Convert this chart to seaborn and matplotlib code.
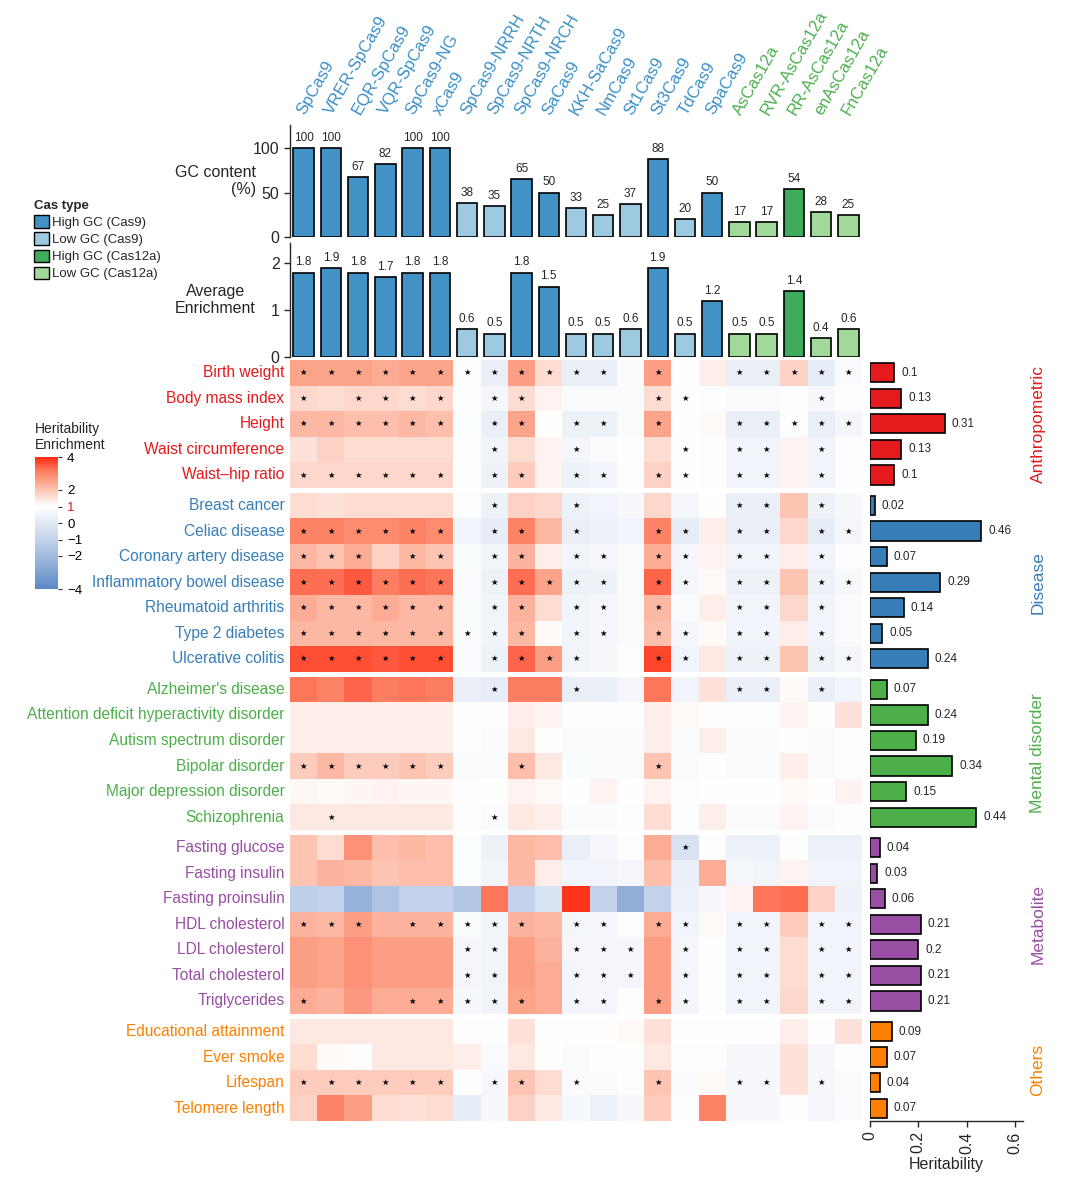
import numpy as np
import pandas as pd
import seaborn as sns
import matplotlib.pyplot as plt
from matplotlib.colors import LinearSegmentedColormap
from matplotlib.patches import Patch
from matplotlib.transforms import blended_transform_factory

sns.set_style('white')
plt.rcParams['font.family'] = ['Liberation Sans', 'DejaVu Sans']

# ---- Cas enzymes (columns) ----
cas_names = ['SpCas9', 'VRER-SpCas9', 'EQR-SpCas9', 'VQR-SpCas9', 'SpCas9-NG', 'xCas9',
             'SpCas9-NRRH', 'SpCas9-NRTH', 'SpCas9-NRCH', 'SaCas9', 'KKH-SaCas9', 'NmCas9',
             'St1Cas9', 'St3Cas9', 'TdCas9', 'SpaCas9', 'AsCas12a', 'RVR-AsCas12a',
             'RR-AsCas12a', 'enAsCas12a', 'FnCas12a']
gc_content = [100, 100, 67, 82, 100, 100, 38, 35, 65, 50, 33, 25, 37, 88, 20, 50, 17, 17, 54, 28, 25]
avg_enrich = [1.8, 1.9, 1.8, 1.7, 1.8, 1.8, 0.6, 0.5, 1.8, 1.5, 0.5, 0.5, 0.6, 1.9, 0.5, 1.2,
              0.5, 0.5, 1.4, 0.4, 0.6]
cas_type = ['High GC (Cas9)'] * 6 + ['Low GC (Cas9)'] * 2 + ['High GC (Cas9)'] * 2 + \
           ['Low GC (Cas9)'] * 3 + ['High GC (Cas9)', 'Low GC (Cas9)', 'High GC (Cas9)'] + \
           ['Low GC (Cas12a)'] * 2 + ['High GC (Cas12a)'] + ['Low GC (Cas12a)'] * 2
type_order = ['High GC (Cas9)', 'Low GC (Cas9)', 'High GC (Cas12a)', 'Low GC (Cas12a)']
type_colors = {'High GC (Cas9)': '#4292C6', 'Low GC (Cas9)': '#9ECAE1',
               'High GC (Cas12a)': '#41AB5D', 'Low GC (Cas12a)': '#A1D99B'}

# ---- traits (rows), grouped ----
groups = ['Anthropometric', 'Disease', 'Mental disorder', 'Metabolite', 'Others']
group_colors = ['#E41A1C', '#377EB8', '#4DAF4A', '#984EA3', '#FF7F00']
traits = [
    ['Birth weight', 'Body mass index', 'Height', 'Waist circumference', 'Waist\u2013hip ratio'],
    ['Breast cancer', 'Celiac disease', 'Coronary artery disease', 'Inflammatory bowel disease',
     'Rheumatoid arthritis', 'Type 2 diabetes', 'Ulcerative colitis'],
    ["Alzheimer's disease", 'Attention deficit hyperactivity disorder', 'Autism spectrum disorder',
     'Bipolar disorder', 'Major depression disorder', 'Schizophrenia'],
    ['Fasting glucose', 'Fasting insulin', 'Fasting proinsulin', 'HDL cholesterol',
     'LDL cholesterol', 'Total cholesterol', 'Triglycerides'],
    ['Educational attainment', 'Ever smoke', 'Lifespan', 'Telomere length'],
]
heritability = [
    [0.1, 0.13, 0.31, 0.13, 0.1],
    [0.02, 0.46, 0.07, 0.29, 0.14, 0.05, 0.24],
    [0.07, 0.24, 0.19, 0.34, 0.15, 0.44],
    [0.04, 0.03, 0.06, 0.21, 0.2, 0.21, 0.21],
    [0.09, 0.07, 0.04, 0.07],
]
enrich_anthro = [
    [2.5, 2.5, 2.5, 2.4, 2.5, 2.5, 1.0, 0.3, 2.6, 1.6, 0.3, 0.3, 0.8, 2.6, 1.0, 1.3, 0.3, 0.3, 1.8, 0.2, 0.8],
    [1.7, 1.6, 1.7, 1.7, 1.6, 1.7, 0.9, 0.6, 1.6, 1.2, 0.8, 0.8, 0.8, 1.6, 1.0, 0.9, 0.8, 0.8, 0.9, 0.7, 0.9],
    [2.2, 2.2, 2.1, 2.1, 2.2, 2.1, 0.9, 0.3, 2.5, 1.0, 0.4, 0.4, 0.8, 2.5, 1.0, 1.1, 0.3, 0.3, 0.9, 0.3, 0.6],
    [1.5, 1.8, 1.6, 1.6, 1.6, 1.6, 0.9, 0.5, 1.6, 1.2, 0.6, 0.8, 0.9, 1.6, 1.0, 0.9, 0.5, 0.5, 1.2, 0.5, 0.9],
    [1.7, 1.7, 1.7, 1.7, 1.7, 1.7, 0.9, 0.4, 1.9, 1.2, 0.4, 0.5, 0.9, 1.8, 1.0, 0.9, 0.5, 0.5, 1.2, 0.5, 0.9],
]
enrich_disease = [
    [1.6, 1.5, 1.6, 1.6, 1.6, 1.6, 0.9, 0.4, 1.8, 1.7, 0.4, 0.5, 0.7, 1.7, 0.6, 1.0, 0.3, 0.3, 2.0, 0.4, 0.7],
    [3.0, 3.0, 2.9, 2.9, 3.0, 2.9, 0.5, 0.2, 3.0, 2.2, 0.3, 0.4, 0.5, 3.0, 0.2, 1.3, 0.3, 0.3, 1.7, 0.2, 0.6],
    [2.2, 2.0, 2.4, 1.8, 2.2, 2.0, 0.8, 0.5, 2.3, 1.3, 0.5, 0.6, 0.8, 2.4, 0.6, 1.2, 0.5, 0.5, 1.3, 0.5, 0.9],
    [3.3, 3.3, 3.5, 3.1, 3.3, 3.2, 0.8, 0.4, 3.3, 2.5, 0.4, 0.4, 0.8, 3.4, 0.6, 1.1, 0.4, 0.4, 2.0, 0.4, 0.7],
    [2.4, 2.2, 2.2, 2.4, 2.2, 2.2, 0.8, 0.5, 2.3, 1.6, 0.5, 0.6, 0.8, 2.2, 0.8, 1.3, 0.5, 0.5, 1.7, 0.5, 0.8],
    [2.2, 2.2, 2.2, 2.2, 2.2, 2.2, 0.8, 0.5, 2.2, 1.1, 0.5, 0.6, 0.8, 2.1, 0.6, 1.1, 0.5, 0.5, 1.3, 0.5, 0.8],
    [3.6, 3.6, 3.6, 3.5, 3.6, 3.6, 0.8, 0.4, 3.4, 2.6, 0.5, 0.7, 0.9, 3.7, 0.5, 1.4, 0.4, 0.4, 2.0, 0.4, 0.6],
]
enrich_mental = [
    [3.2, 3.0, 3.4, 3.1, 3.2, 3.1, 0.3, 0.2, 3.1, 3.1, 0.3, 0.3, 0.6, 3.2, 0.5, 1.5, 0.3, 0.3, 1.1, 0.3, 0.5],
    [1.3, 1.3, 1.3, 1.3, 1.3, 1.3, 0.9, 1.0, 1.3, 1.2, 0.95, 1.0, 1.0, 1.3, 1.1, 0.9, 0.9, 0.9, 1.2, 1.0, 1.5],
    [1.3, 1.3, 1.3, 1.3, 1.3, 1.3, 0.9, 0.8, 1.4, 1.0, 0.8, 0.8, 0.8, 1.3, 0.8, 1.3, 0.8, 0.8, 1.0, 0.8, 0.9],
    [1.9, 2.2, 1.9, 1.9, 2.0, 1.9, 0.8, 0.8, 2.1, 1.4, 0.8, 0.8, 0.8, 2.0, 0.8, 0.9, 0.8, 0.8, 1.3, 0.8, 0.9],
    [1.15, 1.1, 1.15, 1.2, 1.15, 1.15, 0.9, 1.0, 1.2, 1.1, 1.0, 1.2, 1.0, 1.2, 0.9, 1.0, 1.0, 1.0, 1.1, 1.0, 1.2],
    [1.4, 1.4, 1.4, 1.4, 1.4, 1.4, 0.9, 0.8, 1.4, 1.3, 0.8, 0.8, 0.9, 1.6, 0.9, 1.3, 0.8, 0.8, 1.2, 0.8, 0.9],
]
enrich_metab = [
    [2.0, 1.6, 2.8, 2.1, 2.2, 2.1, 0.9, 0.4, 2.2, 2.1, 0.3, 0.6, 0.9, 2.4, -0.3, 0.9, 0.4, 0.4, 1.0, 0.4, 0.4],
    [2.0, 2.3, 2.2, 2.0, 2.1, 2.1, 0.9, 0.5, 2.2, 1.3, 0.5, 0.5, 0.6, 2.1, 0.3, 2.4, 0.6, 0.5, 1.2, 0.5, 0.5],
    [-1.2, -1.0, -2.3, -1.6, -1.0, -1.0, -1.5, 3.2, -1.0, -0.3, 3.9, -1.0, -2.5, -1.0, 0.4, 0.7, 1.2, 3.2, 3.3, 1.8, 0.4],
    [2.3, 2.2, 2.6, 2.3, 2.3, 2.3, 0.8, 0.5, 2.3, 2.2, 0.6, 0.6, 0.9, 2.4, 0.5, 1.1, 0.5, 0.5, 1.9, 0.5, 0.5],
    [2.6, 2.5, 2.8, 2.6, 2.6, 2.6, 0.6, 0.5, 2.6, 2.3, 0.6, 0.6, 0.6, 2.6, 0.6, 1.0, 0.5, 0.5, 1.6, 0.5, 0.5],
    [2.6, 2.5, 2.8, 2.6, 2.6, 2.6, 0.6, 0.5, 2.6, 2.4, 0.6, 0.6, 0.6, 2.6, 0.6, 1.0, 0.5, 0.5, 1.6, 0.5, 0.5],
    [2.4, 2.3, 2.7, 2.4, 2.4, 2.4, 0.7, 0.5, 2.5, 2.4, 0.6, 0.6, 0.9, 2.6, 0.6, 1.0, 0.5, 0.5, 1.7, 0.5, 0.5],
]
enrich_others = [
    [1.4, 1.4, 1.4, 1.4, 1.4, 1.4, 1.0, 0.9, 1.5, 1.0, 1.0, 1.0, 1.1, 1.5, 1.0, 1.0, 1.0, 1.0, 1.3, 1.0, 1.5],
    [1.6, 1.1, 1.0, 1.4, 1.4, 1.4, 1.3, 0.8, 1.4, 1.0, 0.8, 0.9, 1.0, 1.4, 0.9, 0.9, 0.7, 0.7, 1.5, 0.7, 0.9],
    [1.9, 1.9, 1.9, 1.9, 1.9, 1.9, 0.9, 0.7, 2.0, 1.6, 0.8, 0.8, 0.9, 2.0, 0.8, 1.1, 0.7, 0.7, 1.5, 0.7, 0.8],
    [1.8, 3.0, 2.6, 1.6, 1.5, 1.6, 0.2, 0.7, 1.8, 1.4, 0.7, 0.4, 0.7, 1.9, 0.9, 3.0, 0.7, 0.7, 0.9, 0.6, 0.8],
]
enrichment = [enrich_anthro, enrich_disease, enrich_mental, enrich_metab, enrich_others]

# significance marks, one char per column ('*' = significant)
stars = [
    ['************.*..*****', '*.****.**....**....*.', '******.**.**.*..*****',
     '.......*..*...*.**.*.', '******.**.**.**.**.*.'],
    ['.......*..*.....**.*.', '******.**.*..**.**.**', '***.**.**.**.**.**.*.',
     '******.*****.**.**.**', '******.**.**.*..**.*.', '*********.**.**.**.*.',
     '******.****..**.**.**'],
    ['.......*..*.....**.*.', '.....................', '.....................',
     '******..*....*.......', '.....................', '.*.....*.............'],
    ['..............*......', '.....................', '.....................',
     '***.*****.**.**.**.**', '......**..***.*.**.**', '......**..***.*.**.**',
     '*...*****.**.**.**.**'],
    ['.....................', '.....................', '******.**.*..*..**.*.',
     '.....................'],
]

# heatmap colours: blue (-4) -> white (1) -> red (4)
cmap_vals = [-4, -2.75, -1.5, -0.25, 1, 1.75, 2.5, 3.25, 4]
cmap_cols = ['#5A88C4', '#88A8D4', '#B3C7E5', '#DAE3F1', '#FFFFFF',
             '#FDD5C8', '#FCA68C', '#FD7458', '#FF2A12']
cmap = LinearSegmentedColormap.from_list(
    'enrich', [((v + 4) / 8, c) for v, c in zip(cmap_vals, cmap_cols)])

W, H = 1080, 1178
fig = plt.figure(figsize=(W / 100, H / 100), dpi=100)


def px_axes(x0, y0, x1, y1):
    return fig.add_axes([x0 / W, 1 - y1 / H, (x1 - x0) / W, (y1 - y0) / H])


hm_x0, hm_x1 = 290, 862
bar_x0, bar_x1 = 870, 1023

# ---- top bar panels ----
ax_gc = px_axes(hm_x0, 125, hm_x1, 237)
ax_av = px_axes(hm_x0, 243, hm_x1, 357)
for ax, vals, ylim, ticks, lab in [
        (ax_gc, gc_content, 126, [0, 50, 100], 'GC content\n(%)'),
        (ax_av, avg_enrich, 2.43, [0, 1, 2], 'Average\nEnrichment')]:
    sns.barplot(x=cas_names, y=vals, hue=cas_type, hue_order=type_order, palette=type_colors,
                dodge=False, saturation=1, edgecolor='black', linewidth=1.2, width=0.75,
                legend=False, ax=ax)
    for cont in ax.containers:
        ax.bar_label(cont, fmt='%g', padding=3, fontsize=8.5)
    ax.set_xlim(-0.5, len(cas_names) - 0.5)
    ax.set_ylim(0, ylim)
    ax.set_yticks(ticks)
    ax.set_xticks([])
    ax.tick_params(axis='y', labelsize=11.5, length=4, left=True, width=1)
    sns.despine(ax=ax, bottom=True)
    ax.spines['left'].set_linewidth(1)
    ax.set_ylabel(lab, rotation=0, fontsize=11.5, ha='right', va='center',
                  multialignment='right' if 'GC' in lab else 'center')
    ax.yaxis.set_label_coords(-0.06, 0.5)

trans = blended_transform_factory(ax_gc.transData, ax_gc.transAxes)
for i, name in enumerate(cas_names):
    col = '#4CAF50' if 'Cas12a' in name else '#3A8FC7'
    ax_gc.text(i + 0.15, 1.07, name, transform=trans, rotation=60, rotation_mode='anchor',
               ha='left', va='bottom', fontsize=12, color=col)

handles = [Patch(facecolor=type_colors[t], edgecolor='black', linewidth=1) for t in type_order]
ax_gc.legend(handles, type_order, title='Cas type', loc='upper left',
             bbox_to_anchor=(34 / W, 1 - 200 / H), bbox_transform=fig.transFigure,
             frameon=False, fontsize=9.5, title_fontproperties={'weight': 'bold', 'size': 9.5},
             handlelength=1.1, handleheight=1.1, handletextpad=0.3, labelspacing=0.25,
             alignment='left', borderpad=0, borderaxespad=0)

# ---- heatmap groups + heritability bars ----
row_h, gap, y = 25.55, 5, 360
cax = px_axes(35, 457, 58, 589)
for g, name in enumerate(groups):
    n = len(traits[g])
    ax = px_axes(hm_x0, y, hm_x1, y + n * row_h)
    bax = px_axes(bar_x0, y, bar_x1, y + n * row_h)
    y += n * row_h + gap

    df = pd.DataFrame(enrichment[g], index=traits[g], columns=cas_names)
    marks = np.array([[('\u2605' if c == '*' else '') for c in s] for s in stars[g]])
    sns.heatmap(df, ax=ax, cmap=cmap, vmin=-4, vmax=4, annot=marks, fmt='',
                annot_kws={'fontsize': 6, 'color': 'black', 'family': 'DejaVu Sans'},
                xticklabels=False, yticklabels=True, linewidths=0,
                cbar=(g == 0), cbar_ax=cax if g == 0 else None)
    ax.tick_params(axis='y', length=0, pad=4, labelsize=11.2)
    ax.set_ylabel('')
    for t in ax.get_yticklabels():
        t.set_rotation(0)
        t.set_color(group_colors[g])

    sns.barplot(x=heritability[g], y=traits[g], orient='h', color=group_colors[g],
                saturation=1, edgecolor='black', linewidth=1.2, width=0.75, ax=bax)
    bax.bar_label(bax.containers[0], fmt='%g', padding=5, fontsize=8.5)
    bax.set_xlim(0, 0.633)
    bax.set_ylim(n - 0.5, -0.5)
    bax.set_yticks([])
    bax.set_ylabel('')
    sns.despine(ax=bax, left=True, bottom=(g < len(groups) - 1))
    if g < len(groups) - 1:
        bax.set_xticks([])
    else:
        bax.set_xticks([0, 0.2, 0.4, 0.6], labels=['0', '0.2', '0.4', '0.6'], rotation=90)
        bax.tick_params(axis='x', labelsize=11.5, length=4, bottom=True, width=1)
        bax.spines['bottom'].set_linewidth(1)
        bax.set_xlabel('Heritability', fontsize=11.5, labelpad=2)
    bax.text(1.098, 0.5, name, transform=bax.transAxes, rotation=90, ha='center', va='center',
             fontsize=12.5, color=group_colors[g])

# colorbar legend
cb_ticks = [-4, -2, -1, 0, 1, 2, 4]
cax.set_yticks(cb_ticks, labels=['\u22124', '\u22122', '\u22121', '0', '1', '2', '4'])
cax.tick_params(labelsize=9.5, length=3, width=0.8, colors='#333333')
for t in cax.get_yticklabels():
    t.set_color('#D7191C' if t.get_text() == '1' else 'black')
for sp in cax.spines.values():
    sp.set_edgecolor('#555555')
fig.text(35 / W, 1 - 422 / H, 'Heritability\nEnrichment', va='top', ha='left', fontsize=10)

fig.savefig('out.png', dpi=100)
